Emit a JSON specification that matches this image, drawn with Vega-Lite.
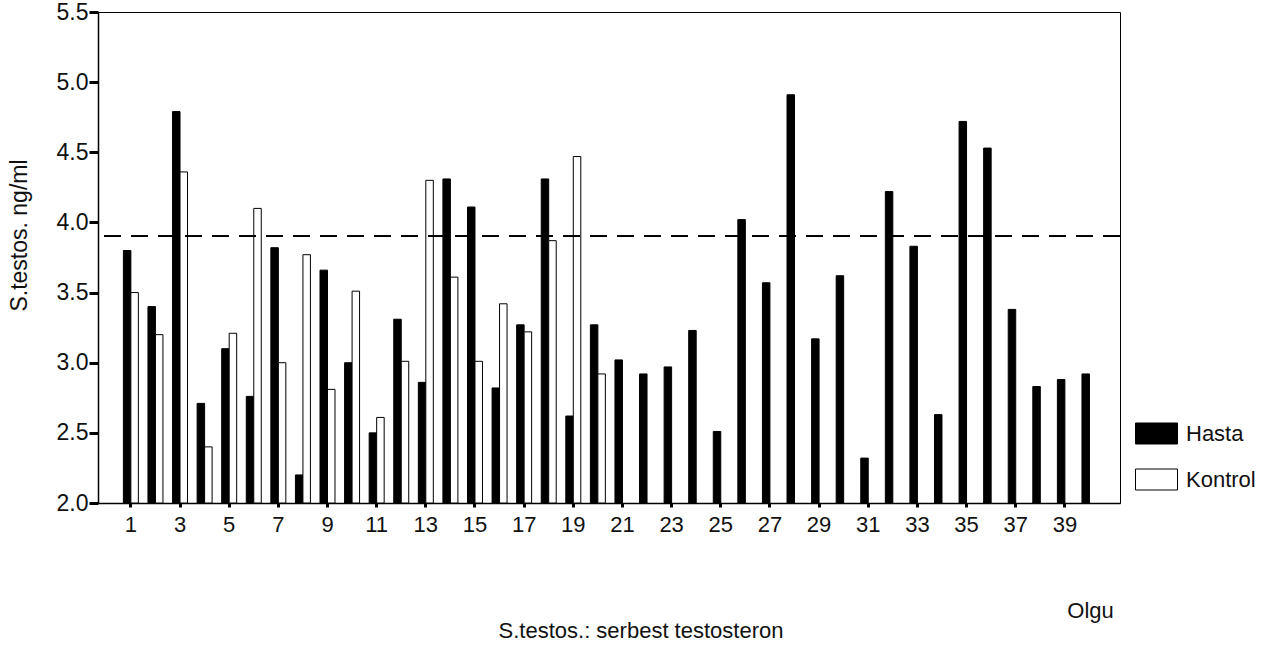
{
  "$schema": "https://vega.github.io/schema/vega-lite/v6.json",
  "width": 1022,
  "height": 491,
  "autosize": {"type": "none"},
  "padding": {"left": 98, "top": 12, "right": 155, "bottom": 143},
  "background": "white",
  "config": {
    "font": "Liberation Sans",
    "view": {"stroke": "#000000", "strokeWidth": 1},
    "axis": {"grid": false, "labelColor": "#111111", "titleColor": "#111111", "titleFontWeight": "normal", "domainColor": "#000000", "tickColor": "#000000"}
  },
  "title": {
    "text": "S.testos.: serbest testosteron",
    "orient": "bottom",
    "anchor": "middle",
    "frame": "group",
    "fontSize": 22,
    "fontWeight": "normal",
    "color": "#111111",
    "offset": 0,
    "dx": 32
  },
  "data": {
    "values": [
      {"olgu": 1, "grup": "Hasta", "deger": 3.80}, {"olgu": 1, "grup": "Kontrol", "deger": 3.50},
      {"olgu": 2, "grup": "Hasta", "deger": 3.40}, {"olgu": 2, "grup": "Kontrol", "deger": 3.20},
      {"olgu": 3, "grup": "Hasta", "deger": 4.79}, {"olgu": 3, "grup": "Kontrol", "deger": 4.36},
      {"olgu": 4, "grup": "Hasta", "deger": 2.71}, {"olgu": 4, "grup": "Kontrol", "deger": 2.40},
      {"olgu": 5, "grup": "Hasta", "deger": 3.10}, {"olgu": 5, "grup": "Kontrol", "deger": 3.21},
      {"olgu": 6, "grup": "Hasta", "deger": 2.76}, {"olgu": 6, "grup": "Kontrol", "deger": 4.10},
      {"olgu": 7, "grup": "Hasta", "deger": 3.82}, {"olgu": 7, "grup": "Kontrol", "deger": 3.00},
      {"olgu": 8, "grup": "Hasta", "deger": 2.20}, {"olgu": 8, "grup": "Kontrol", "deger": 3.77},
      {"olgu": 9, "grup": "Hasta", "deger": 3.66}, {"olgu": 9, "grup": "Kontrol", "deger": 2.81},
      {"olgu": 10, "grup": "Hasta", "deger": 3.00}, {"olgu": 10, "grup": "Kontrol", "deger": 3.51},
      {"olgu": 11, "grup": "Hasta", "deger": 2.50}, {"olgu": 11, "grup": "Kontrol", "deger": 2.61},
      {"olgu": 12, "grup": "Hasta", "deger": 3.31}, {"olgu": 12, "grup": "Kontrol", "deger": 3.01},
      {"olgu": 13, "grup": "Hasta", "deger": 2.86}, {"olgu": 13, "grup": "Kontrol", "deger": 4.30},
      {"olgu": 14, "grup": "Hasta", "deger": 4.31}, {"olgu": 14, "grup": "Kontrol", "deger": 3.61},
      {"olgu": 15, "grup": "Hasta", "deger": 4.11}, {"olgu": 15, "grup": "Kontrol", "deger": 3.01},
      {"olgu": 16, "grup": "Hasta", "deger": 2.82}, {"olgu": 16, "grup": "Kontrol", "deger": 3.42},
      {"olgu": 17, "grup": "Hasta", "deger": 3.27}, {"olgu": 17, "grup": "Kontrol", "deger": 3.22},
      {"olgu": 18, "grup": "Hasta", "deger": 4.31}, {"olgu": 18, "grup": "Kontrol", "deger": 3.87},
      {"olgu": 19, "grup": "Hasta", "deger": 2.62}, {"olgu": 19, "grup": "Kontrol", "deger": 4.47},
      {"olgu": 20, "grup": "Hasta", "deger": 3.27}, {"olgu": 20, "grup": "Kontrol", "deger": 2.92},
      {"olgu": 21, "grup": "Hasta", "deger": 3.02},
      {"olgu": 22, "grup": "Hasta", "deger": 2.92},
      {"olgu": 23, "grup": "Hasta", "deger": 2.97},
      {"olgu": 24, "grup": "Hasta", "deger": 3.23},
      {"olgu": 25, "grup": "Hasta", "deger": 2.51},
      {"olgu": 26, "grup": "Hasta", "deger": 4.02},
      {"olgu": 27, "grup": "Hasta", "deger": 3.57},
      {"olgu": 28, "grup": "Hasta", "deger": 4.91},
      {"olgu": 29, "grup": "Hasta", "deger": 3.17},
      {"olgu": 30, "grup": "Hasta", "deger": 3.62},
      {"olgu": 31, "grup": "Hasta", "deger": 2.32},
      {"olgu": 32, "grup": "Hasta", "deger": 4.22},
      {"olgu": 33, "grup": "Hasta", "deger": 3.83},
      {"olgu": 34, "grup": "Hasta", "deger": 2.63},
      {"olgu": 35, "grup": "Hasta", "deger": 4.72},
      {"olgu": 36, "grup": "Hasta", "deger": 4.53},
      {"olgu": 37, "grup": "Hasta", "deger": 3.38},
      {"olgu": 38, "grup": "Hasta", "deger": 2.83},
      {"olgu": 39, "grup": "Hasta", "deger": 2.88},
      {"olgu": 40, "grup": "Hasta", "deger": 2.92}
    ]
  },
  "layer": [
    {
      "mark": {"type": "bar", "stroke": "#000000", "strokeWidth": 1},
      "encoding": {
        "x": {
          "field": "olgu",
          "type": "ordinal",
          "sort": "ascending",
          "scale": {"paddingInner": 0, "paddingOuter": 0.79, "align": 0.53},
          "axis": {
            "values": [1,3,5,7,9,11,13,15,17,19,21,23,25,27,29,31,33,35,37,39],
            "labelAngle": 0,
            "labelFontSize": 22,
            "labelPadding": 7,
            "tickSize": 4,
            "tickWidth": 3,
            "domainWidth": 1.5,
            "title": "Olgu",
            "titleFontSize": 22,
            "titleX": 992,
            "titleY": 114,
            "titleAnchor": "middle",
            "titleAlign": "center",
            "titleBaseline": "alphabetic"
          }
        },
        "xOffset": {
          "field": "grup",
          "type": "nominal",
          "scale": {"domain": ["Hasta", "Kontrol"], "paddingInner": 0, "paddingOuter": 0.64}
        },
        "y": {
          "field": "deger",
          "type": "quantitative",
          "scale": {"domain": [2, 5.5], "zero": false, "nice": false},
          "axis": {
            "values": [2, 2.5, 3, 3.5, 4, 4.5, 5, 5.5],
            "format": ".1f",
            "labelFontSize": 23,
            "labelPadding": 1,
            "tickSize": 9,
            "tickWidth": 3,
            "domainWidth": 1.5,
            "title": "S.testos. ng/ml",
            "titleFontSize": 23,
            "titleAngle": -90,
            "titleX": -79,
            "titleY": 223,
            "titleAlign": "center",
            "titleBaseline": "middle"
          }
        },
        "y2": {"datum": 2},
        "fill": {
          "field": "grup",
          "type": "nominal",
          "scale": {"domain": ["Hasta", "Kontrol"], "range": ["#000000", "#ffffff"]},
          "legend": {
            "title": null,
            "orient": "none",
            "legendX": 1037,
            "legendY": 400,
            "padding": 0,
            "symbolType": "M-1,-0.5H1V0.5H-1Z",
            "symbolSize": 1764,
            "symbolStrokeColor": "#000000",
            "symbolStrokeWidth": 1,
            "labelFontSize": 22,
            "labelColor": "#111111",
            "labelOffset": 8,
            "rowPadding": 12
          }
        }
      }
    },
    {
      "mark": {"type": "rule", "color": "#000000", "strokeWidth": 1, "strokeDash": [17, 10]},
      "encoding": {"y": {"datum": 3.9}}
    }
  ]
}
